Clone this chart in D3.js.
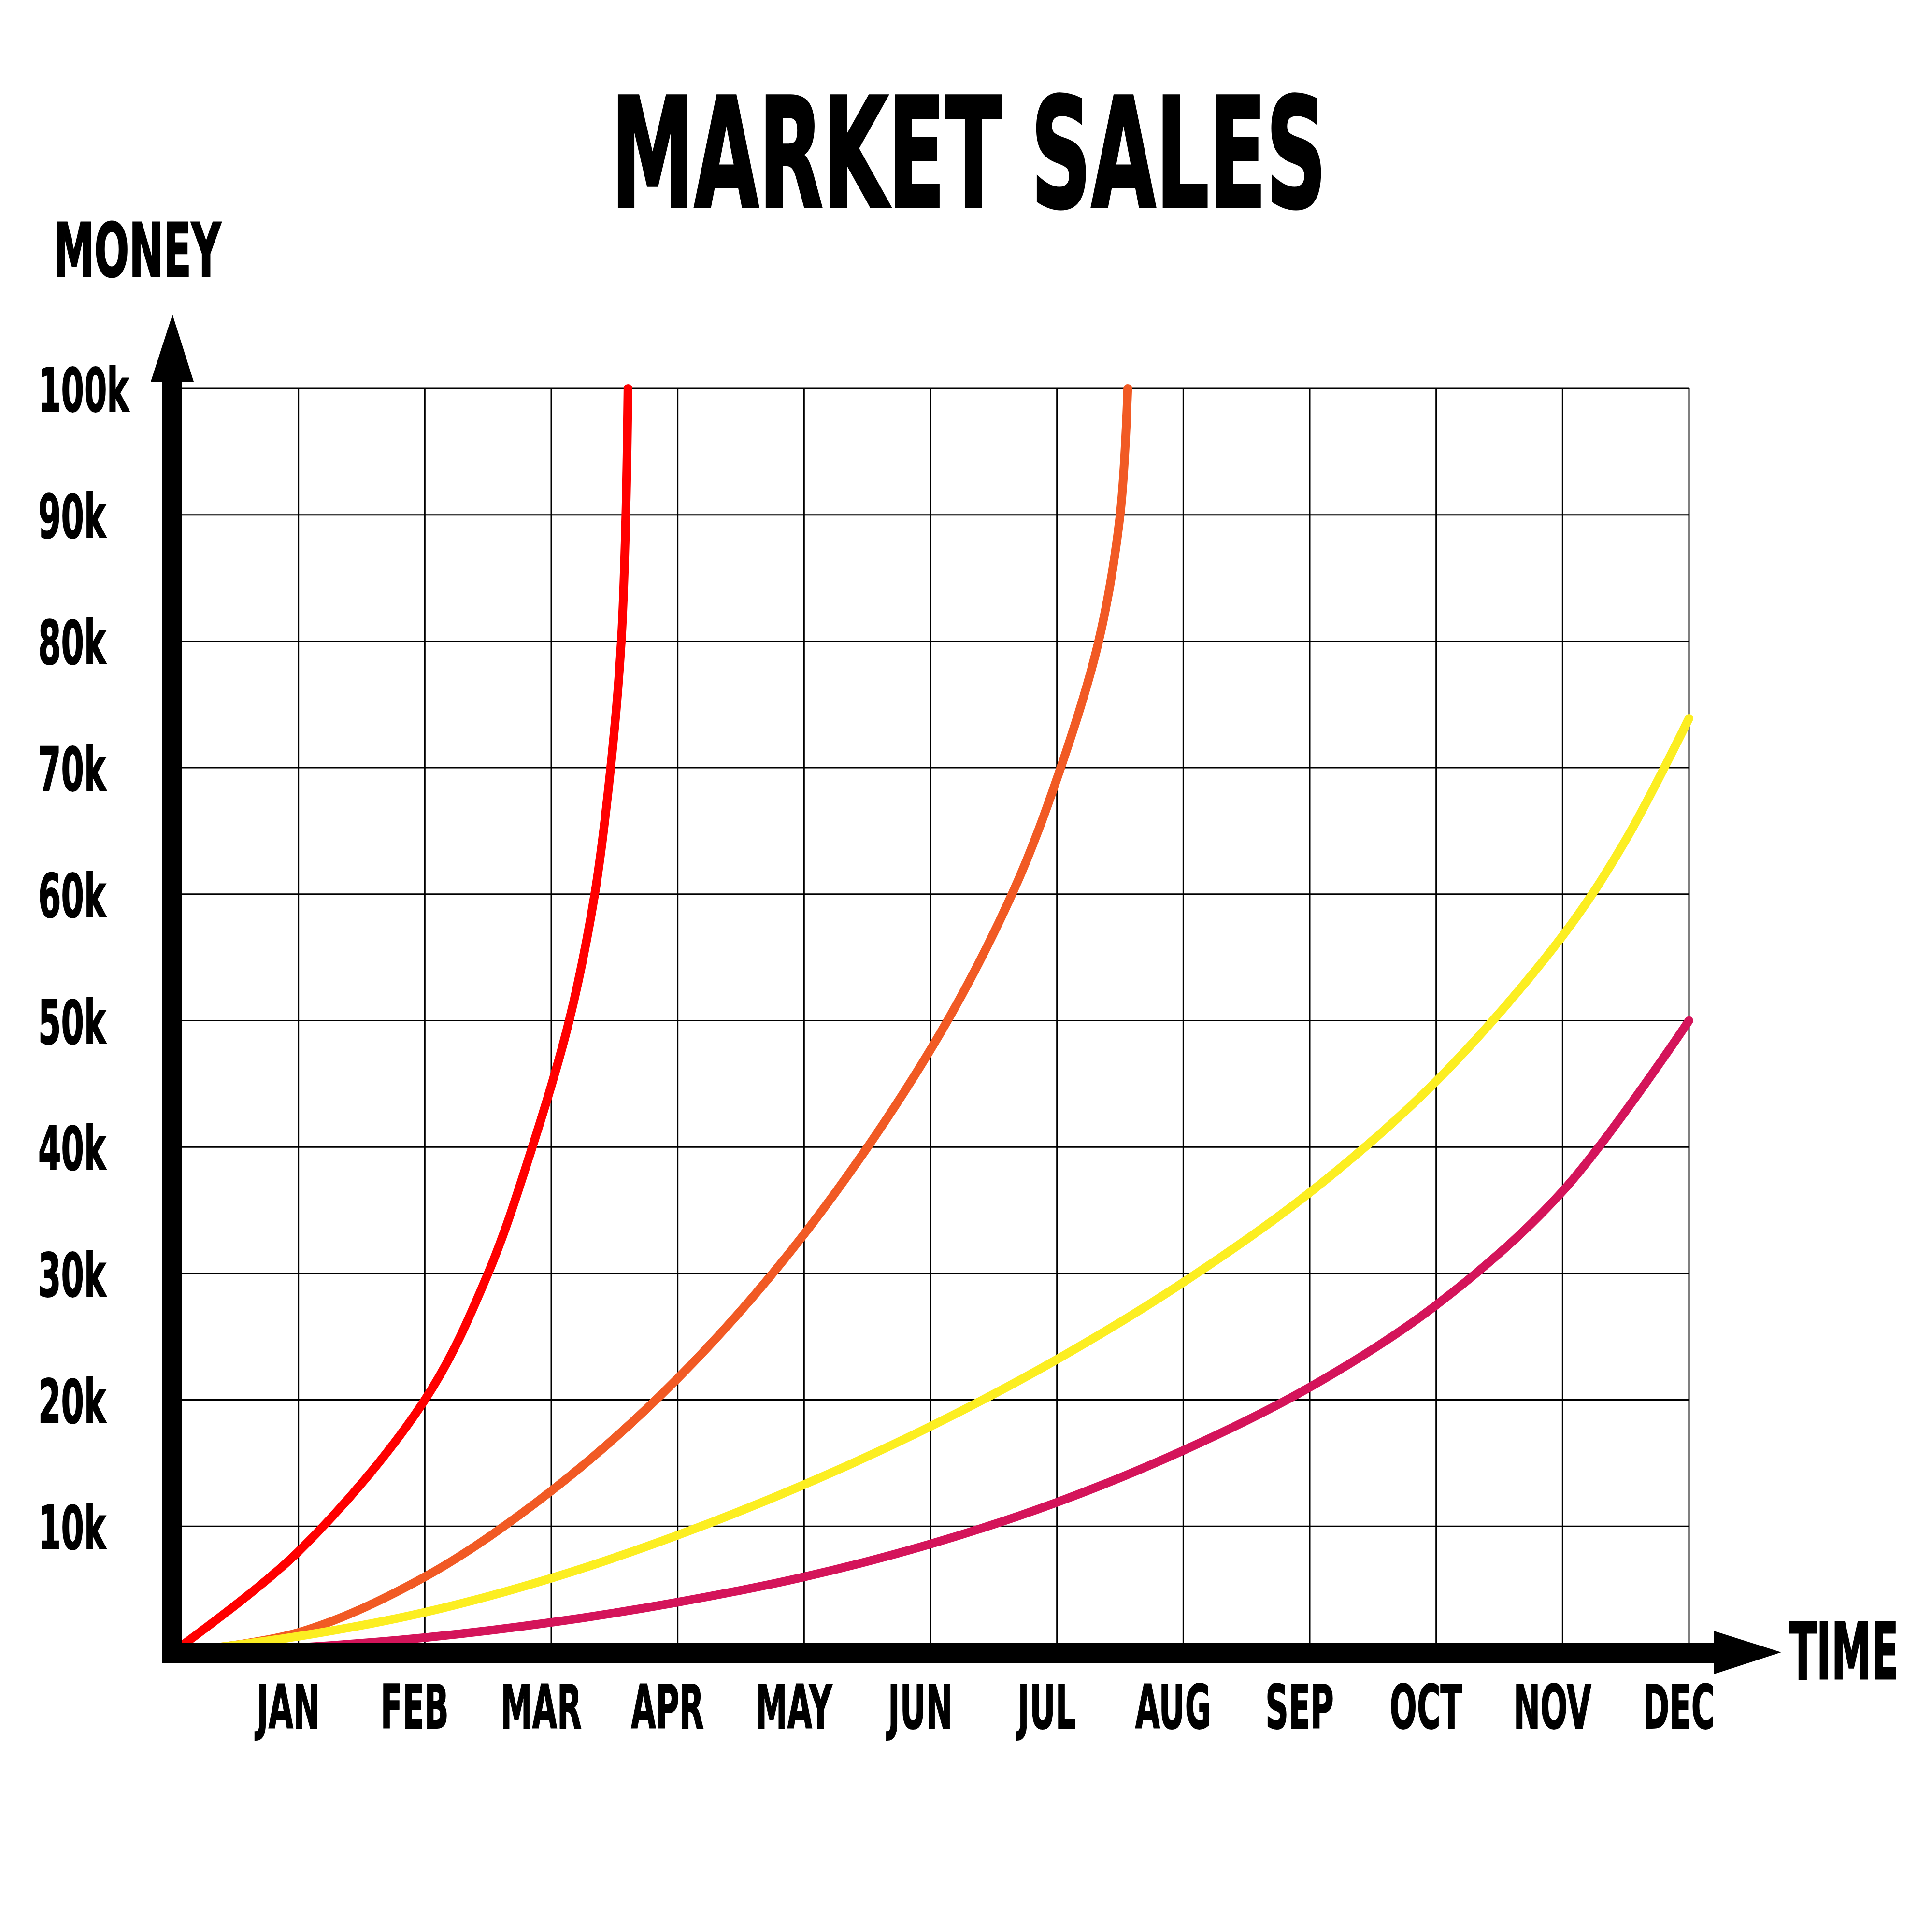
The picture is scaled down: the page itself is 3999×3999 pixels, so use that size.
<!DOCTYPE html>
<html>
<head>
<meta charset="utf-8">
<script src="https://cdn.jsdelivr.net/npm/d3@7"></script>
<style>
  body { margin: 0; background: #fff; }
  svg text { font-family: "DejaVu Sans", sans-serif; font-weight: bold; fill: #000; }
</style>
</head>
<body>
<svg id="chart" width="3999" height="3999"></svg>
<script>
// chart values: [month index, sales in k]
var months = ["JAN","FEB","MAR","APR","MAY","JUN","JUL","AUG","SEP","OCT","NOV","DEC"];
var yTicks = [10,20,30,40,50,60,70,80,90,100];

var redSeries = [[0,0],[1,8.0],[2,20.0],[2.5,30.0],[2.85,40],[3.142,50],[3.344,60],[3.47,70],[3.554,80],[3.59,90],[3.607,100]];
var orangeSeries = [[0,0],[1,1.6],[2,6.0],[3,12.8],[4,21.7],[5,33.1],[6,47.7],[6.645,60],[7.03,70],[7.33,80],[7.5,90],[7.56,100]];
var yellowSeries = [[0,0],[1,1.3],[2,3.2],[3,5.9],[4,9.3],[5,13.3],[6,17.9],[7,23.2],[8,29.3],[9,36.4],[10,45.2],[11,56.7],[11.5,64.3],[12,73.9]];
var magentaSeries = [[0,0],[1,0.4],[2,1.2],[3,2.4],[4,4.0],[5,6.0],[6,8.6],[7,11.9],[8,16.0],[9,21.0],[10,27.5],[11,36.5],[12,50]];

var seriesList = [redSeries, orangeSeries, yellowSeries, magentaSeries];
var seriesColors = ["#ff0000", "#f15a24", "#fcee21", "#d4145a"];

var svg = d3.select("#chart");

var x = d3.scaleLinear().domain([0, 12]).range([356, 3496]);
var y = d3.scaleLinear().domain([0, 100]).range([3421, 804]);

// grid
var grid = svg.append("g").attr("stroke", "#000").attr("stroke-width", 3);
grid.selectAll("line.h")
  .data(yTicks)
  .enter()
  .append("line")
    .attr("class", "h")
    .attr("x1", x(0)).attr("x2", x(12))
    .attr("y1", function(d) { return y(d); })
    .attr("y2", function(d) { return y(d); });
grid.selectAll("line.v")
  .data(d3.range(1, 13))
  .enter()
  .append("line")
    .attr("class", "v")
    .attr("x1", function(d) { return x(d); })
    .attr("x2", function(d) { return x(d); })
    .attr("y1", y(100)).attr("y2", y(0));

// sales curves (parametric spline, the steep ones bend almost vertical)
var line = d3.line()
  .x(function(d) { return x(d[0]); })
  .y(function(d) { return y(d[1]); })
  .curve(d3.curveCatmullRom.alpha(0.5));

svg.append("g").selectAll("path")
  .data(seriesList)
  .enter()
  .append("path")
    .attr("d", line)
    .attr("fill", "none")
    .attr("stroke", function(d, i) { return seriesColors[i]; })
    .attr("stroke-width", 18)
    .attr("stroke-linecap", "round")
    .attr("stroke-linejoin", "round");

// thick axes with arrow heads
var half = 21;
var axes = svg.append("g").attr("fill", "#000");
axes.append("rect")
  .attr("x", x(0) - half).attr("y", y(100) - 14)
  .attr("width", 2 * half).attr("height", y(0) + half - (y(100) - 14));
axes.append("polygon")
  .attr("points", [[x(0) - 44, y(100) - 14], [x(0) + 45, y(100) - 14], [x(0) + 1, y(100) - 153]].join(" "));
axes.append("rect")
  .attr("x", x(0) - half).attr("y", y(0) - half)
  .attr("width", x(12) + 52 - (x(0) - half)).attr("height", 2 * half);
axes.append("polygon")
  .attr("points", [[x(12) + 52, y(0) - 45], [x(12) + 52, y(0) + 44], [x(12) + 191, y(0) - 1]].join(" "));

// the lettering in the original is a narrow bold face, so squeeze it sideways
function place(px, py, k) {
  return "translate(" + px + "," + py + ") scale(" + k + ",1)";
}

svg.append("g").selectAll("text")
  .data(yTicks)
  .enter()
  .append("text")
    .attr("transform", function(d) { return place(79, y(d) + 47, 0.55); })
    .attr("font-size", 124)
    .attr("stroke", "#000").attr("stroke-width", 2)
    .text(function(d) { return d + "k"; });

svg.append("g").selectAll("text")
  .data(months)
  .enter()
  .append("text")
    .attr("transform", function(d, i) { return place(x(i + 1) - 21, 3577, 0.53); })
    .attr("text-anchor", "middle")
    .attr("font-size", 125)
    .attr("stroke", "#000").attr("stroke-width", 2)
    .text(function(d) { return d; });

// titles
svg.append("text")
  .attr("transform", place(2005, 428, 0.549))
  .attr("text-anchor", "middle")
  .attr("font-size", 315)
  .attr("stroke", "#000").attr("stroke-width", 6)
  .text("MARKET SALES");

svg.append("text")
  .attr("transform", place(111, 572, 0.55))
  .attr("font-size", 154)
  .attr("stroke", "#000").attr("stroke-width", 3)
  .text("MONEY");

svg.append("text")
  .attr("transform", place(3703, 3475, 0.51))
  .attr("font-size", 163)
  .attr("stroke", "#000").attr("stroke-width", 3)
  .text("TIME");
</script>
</body>
</html>
